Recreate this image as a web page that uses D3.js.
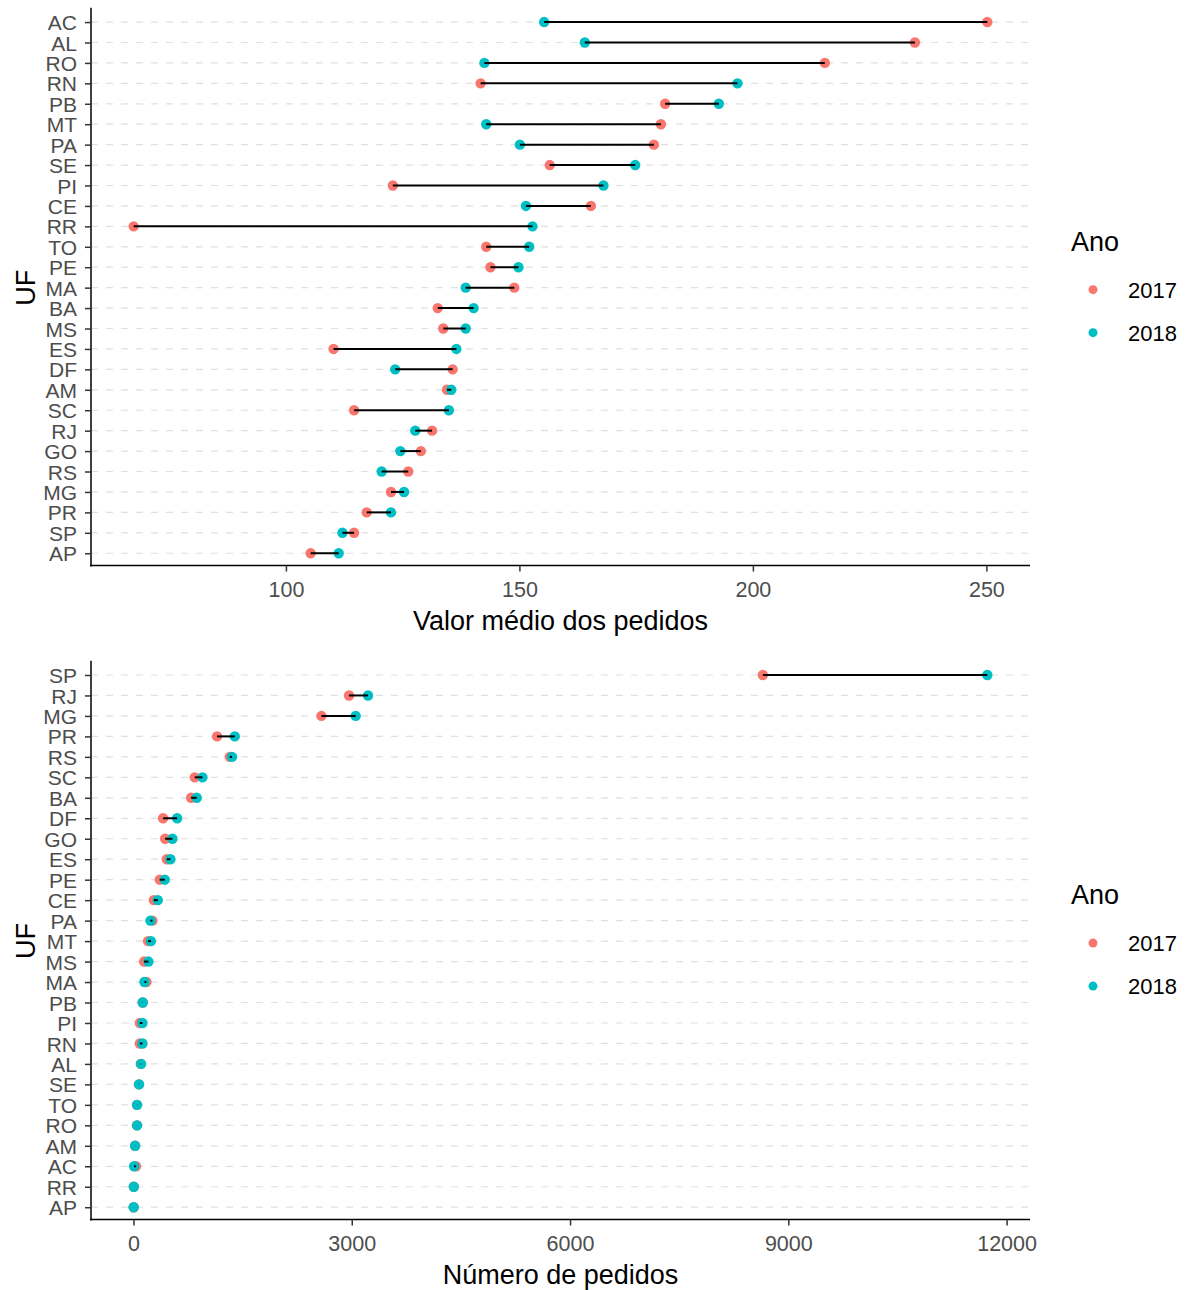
<!DOCTYPE html>
<html><head><meta charset="utf-8">
<script src="https://cdn.jsdelivr.net/npm/d3@7"></script>
<style>body{margin:0;background:#fff}svg{display:block}text{font-family:"Liberation Sans",Arial,sans-serif}</style>
</head><body>
<svg id="c" width="1190" height="1290"></svg>
<script>
// ---- data ----
const ufValor = ["AC","AL","RO","RN","PB","MT","PA","SE","PI","CE","RR","TO","PE","MA","BA","MS","ES","DF","AM","SC","RJ","GO","RS","MG","PR","SP","AP"];
const valor2017 = [250.2,234.7,215.4,141.7,181.2,180.3,178.8,156.5,122.9,165.3,67.4,142.9,143.8,148.9,132.5,133.7,110.2,135.7,134.5,114.6,131.3,128.9,126.2,122.5,117.3,114.6,105.3];
const valor2018 = [155.3,164.0,142.5,196.7,192.7,142.9,150.1,174.8,168.0,151.4,152.8,152.1,149.8,138.5,140.2,138.5,136.5,123.4,135.4,134.9,127.7,124.5,120.5,125.3,122.5,112.1,111.3];
const valorTicks = [100,150,200,250];

const ufPedidos = ["SP","RJ","MG","PR","RS","SC","BA","DF","GO","ES","PE","CE","PA","MT","MS","MA","PB","PI","RN","AL","SE","TO","RO","AM","AC","RR","AP"];
const pedidos2017 = [8650,2963,2583,1149,1323,842,792,407,435,458,361,279,261,200,146,178,125,87,87,100,75,48,48,22,35,5,3];
const pedidos2018 = [11735,3224,3054,1392,1355,948,870,600,536,508,430,334,233,240,206,151,128,124,124,105,77,50,50,23,8,5,3];
const pedidosTicks = [0,3000,6000,9000,12000];

const anos = ["2017","2018"];
const cores = ["#F8766D","#00BFC4"];

const svg = d3.select("#c");

function panel(cfg){
  const g = svg.append("g");
  const left = 91, right = 1030;
  const all = cfg.a.concat(cfg.b);
  const [mn,mx] = d3.extent(all);
  const pad = (mx-mn)*0.05;
  const x = d3.scaleLinear().domain([mn-pad, mx+pad]).range([left,right]);
  const y = d3.scalePoint().domain(cfg.cats).range([cfg.top, cfg.bottom]).padding(0.6);

  // grid lines
  g.selectAll(".grid").data(cfg.cats).join("line")
    .attr("x1", left).attr("x2", right)
    .attr("y1", d=>y(d)).attr("y2", d=>y(d))
    .attr("stroke","#e0e0e0").attr("stroke-width",1.2).attr("stroke-dasharray","7,8");

  const rows = cfg.cats.map((c,i)=>({c, a:cfg.a[i], b:cfg.b[i]}));
  g.selectAll(".pa").data(rows).join("circle")
    .attr("cx", d=>x(d.a)).attr("cy", d=>y(d.c)).attr("r",5.2).attr("fill",cores[0]);
  g.selectAll(".pb").data(rows).join("circle")
    .attr("cx", d=>x(d.b)).attr("cy", d=>y(d.c)).attr("r",5.2).attr("fill",cores[1]);
  g.selectAll(".seg").data(rows).join("line")
    .attr("x1", d=>x(d.a)).attr("x2", d=>x(d.b))
    .attr("y1", d=>y(d.c)).attr("y2", d=>y(d.c))
    .attr("stroke","#000").attr("stroke-width",2);

  // y axis
  const ya = g.append("g").attr("transform",`translate(${left},0)`)
    .call(d3.axisLeft(y).tickSize(6).tickPadding(8));
  ya.select(".domain").attr("stroke","#000").attr("stroke-width",1.5)
    .attr("d", `M0,${cfg.top-2}V${cfg.bottom+1}`);
  ya.selectAll(".tick line").attr("stroke","#333").attr("stroke-width",1.5);
  ya.selectAll(".tick text").attr("fill","#4d4d4d").style("font-size","21px")
    .attr("dy","0.36em").style("font-family","'Liberation Sans',Arial,sans-serif");

  // x axis
  const xa = g.append("g").attr("transform",`translate(0,${cfg.bottom})`)
    .call(d3.axisBottom(x).tickValues(cfg.ticks).tickSize(6).tickPadding(10).tickFormat(d3.format("d")));
  xa.select(".domain").attr("stroke","#000").attr("stroke-width",1.5)
    .attr("d", `M${left-1},0H${right}`);
  xa.selectAll(".tick line").attr("stroke","#333").attr("stroke-width",1.5);
  xa.selectAll(".tick text").attr("fill","#4d4d4d").style("font-size","21.5px")
    .style("font-family","'Liberation Sans',Arial,sans-serif");

  // titles
  g.append("text").attr("x",(left+right)/2).attr("y",cfg.bottom+64)
    .attr("text-anchor","middle").style("font-size","27px").attr("fill","#000").text(cfg.xTitle);
  const cy = (cfg.top+cfg.bottom)/2;
  g.append("text").attr("transform",`translate(35,${cy}) rotate(-90)`)
    .attr("text-anchor","middle").style("font-size","27px").attr("fill","#000").text("UF");

  // legend
  const lg = g.append("g");
  lg.append("text").attr("x",1071).attr("y",cy-37).style("font-size","27px").attr("fill","#000").text("Ano");
  anos.forEach((a,i)=>{
    const yy = cy + 2 + i*43;
    lg.append("circle").attr("cx",1093).attr("cy",yy).attr("r",4.5).attr("fill",cores[i]);
    lg.append("text").attr("x",1128).attr("y",yy).attr("dy","0.36em")
      .style("font-size","22px").attr("fill","#000").text(a);
  });
}

panel({cats:ufValor, a:valor2017, b:valor2018, ticks:valorTicks, top:9.8, bottom:565.5, xTitle:"Valor médio dos pedidos"});
panel({cats:ufPedidos, a:pedidos2017, b:pedidos2018, ticks:pedidosTicks, top:662.7, bottom:1219.5, xTitle:"Número de pedidos"});
</script>
</body></html>
